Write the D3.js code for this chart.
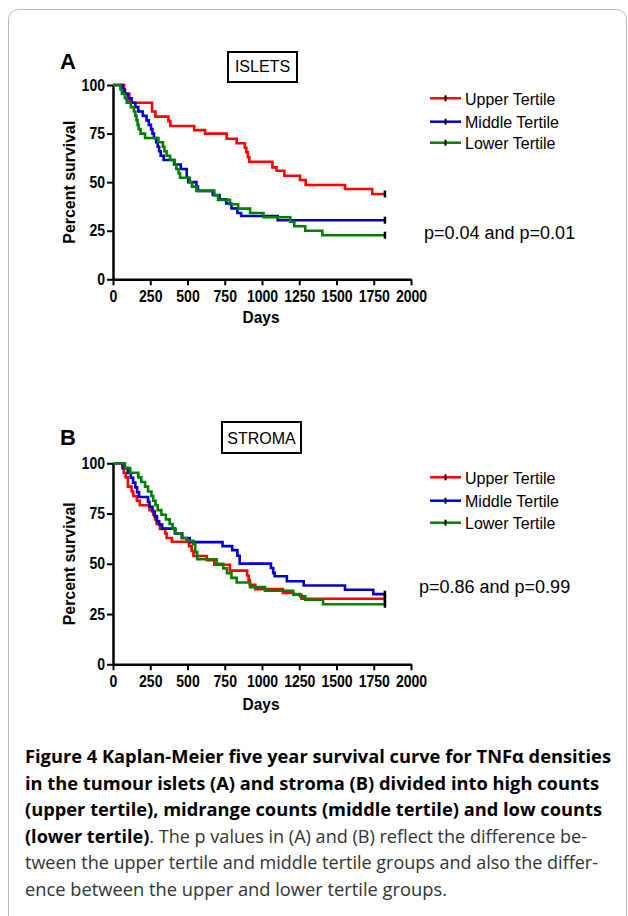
<!DOCTYPE html>
<html lang="en">
<head>
<meta charset="UTF-8">
<title>Figure 4 - Kaplan-Meier TNFa</title>
<style>
  html, body { margin: 0; background: #fff; }
  svg { display: block; }
</style>
</head>
<body>
<script src="https://cdn.jsdelivr.net/npm/d3@7"></script>
<script>
// ---- data (day, percent survival) : each point starts a new step ----
const seriesNames = ["Upper Tertile", "Middle Tertile", "Lower Tertile"];
const seriesColors = ["#ff0000", "#0000cc", "#008000"];
const xTicks = [0, 250, 500, 750, 1000, 1250, 1500, 1750, 2000];
const yTicks = [0, 25, 50, 75, 100];
const followUp = 1825;

const isletsUpper = [[0,100],[75,95.5],[110,90.9],[262,86.4],[285,83.7],[372,81.4],[385,78.9],[545,76.8],[618,75],[763,72.3],[830,70],[885,67.7],[895,65.4],[905,62.8],[915,60.5],[1070,57.6],[1098,55.9],[1150,53.3],[1255,51.1],[1293,48.5],[1557,46.5],[1740,43.9]];
const isletsMiddle = [[0,100],[65,97.7],[80,95.5],[100,93.2],[125,90.9],[150,88.6],[170,86.4],[200,84.1],[225,81.8],[240,79.5],[255,77.3],[265,75],[275,72.7],[290,70.5],[300,68.2],[310,65.9],[320,63.6],[340,61.4],[410,59.1],[455,56.8],[495,52.3],[505,50],[560,47.7],[570,45.5],[670,43.4],[715,41.2],[760,39],[795,36.5],[835,34.1],[860,32.6],[1105,30.4]];
const isletsLower = [[0,100],[50,97.7],[60,95.5],[80,93.2],[92,90.9],[120,88.6],[140,86.4],[150,84.1],[158,81.8],[165,79.5],[172,77.3],[185,75],[215,72.7],[305,70.5],[335,68.2],[345,65.9],[360,63.6],[383,61.4],[415,59.1],[425,56.8],[440,54.5],[450,52.3],[515,50],[530,47.7],[560,45.5],[680,43.2],[705,40.9],[785,38.6],[840,36.4],[920,34.1],[1010,31.9],[1190,29.6],[1217,27.3],[1290,25],[1405,22.7]];

const stromaUpper = [[0,100],[62,97.7],[72,95.3],[85,93],[100,88.4],[125,86],[136,83.7],[160,81.4],[180,79.1],[245,76.7],[270,74.4],[282,72.1],[293,69.8],[315,67.4],[350,65.1],[360,62.8],[395,61],[510,58.8],[528,56.4],[540,53.9],[630,51.8],[680,49.5],[785,46.6],[900,44.2],[910,41.9],[918,39.5],[955,37.4],[1140,35.5],[1210,34.6],[1265,32.6]];
const stromaMiddle = [[0,100],[70,97.6],[100,95.2],[120,92.8],[135,90.4],[150,88],[162,85.6],[175,83.2],[235,80.8],[245,78.4],[265,76],[280,73.6],[295,71.2],[310,69.5],[330,67.5],[415,65.1],[465,62.8],[515,60.8],[735,58.8],[800,56.8],[835,54],[850,50.1],[1060,47.9],[1075,45.5],[1085,43.8],[1167,41.3],[1280,39.2],[1557,37.1],[1747,34.9]];
const stromaLower = [[0,100],[80,97.6],[115,95.3],[170,93],[190,90.7],[215,88.4],[235,86],[258,83.7],[270,81.4],[285,79.1],[300,76.7],[325,74.4],[355,72.1],[380,69.8],[400,67.4],[420,65.1],[460,62.8],[495,61.5],[540,59.9],[552,55.8],[565,52.3],[695,50],[740,47.7],[765,45.3],[795,43],[830,40.7],[920,38.4],[1020,36.6],[1210,35],[1255,33.8],[1290,32.1],[1410,29.9]];

const panelLetters = ["A", "B"];
const panelTitles = ["ISLETS", "STROMA"];
const pValues = ["p=0.04 and p=0.01", "p=0.86 and p=0.99"];

const captionLines = [
  [["b", "Figure 4 Kaplan-Meier five year survival curve for TNF\u03b1 densities"]],
  [["b", "in the tumour islets (A) and stroma (B) divided into high counts"]],
  [["b", "(upper tertile), midrange counts (middle tertile) and low counts"]],
  [["b", "(lower tertile)"], ["r", ". The p values in (A) and (B) reflect the difference be-"]],
  [["r", "tween the upper tertile and middle tertile groups and also the differ-"]],
  [["r", "ence between the upper and lower tertile groups."]]
];

// ---- layout ----
const W = 628, H = 916;
const sans = "'Liberation Sans',Arial,Helvetica,sans-serif";

const svg = d3.select("body").append("svg")
  .attr("width", W)
  .attr("height", H);

// figure frame
svg.append("rect")
  .attr("x", 8.5).attr("y", 9.5)
  .attr("width", 618).attr("height", 960)
  .attr("rx", 10)
  .attr("fill", "none")
  .attr("stroke", "#b8b8b8");

const x = d3.scaleLinear().domain([0, 2000]).range([113, 411]);

const panels = [
  { series: [isletsUpper, isletsMiddle, isletsLower], top: 85, bottom: 279.3,
    letterY: 69.3, box: [228, 52, 69, 30], titleY: 72.3,
    legendY: [98.3, 121.7, 142.7], pY: 238.5, pX: 424, xLabelY: 323.3 },
  { series: [stromaUpper, stromaMiddle, stromaLower], top: 463.3, bottom: 664.3,
    letterY: 445, box: [222, 422, 79, 31], titleY: 444,
    legendY: [477.3, 500.7, 522.7], pY: 593, pX: 419, xLabelY: 710 }
];

panels.forEach((p, i) => {
  const y = d3.scaleLinear().domain([0, 100]).range([p.bottom, p.top]);
  const g = svg.append("g");

  // panel letter
  g.append("text")
    .attr("x", 60).attr("y", p.letterY)
    .attr("font-family", sans)
    .attr("font-weight", "bold")
    .attr("font-size", 22)
    .text(panelLetters[i]);

  // title box
  g.append("rect")
    .attr("x", p.box[0]).attr("y", p.box[1])
    .attr("width", p.box[2]).attr("height", p.box[3])
    .attr("fill", "#fff")
    .attr("stroke", "#000")
    .attr("stroke-width", 2);
  g.append("text")
    .attr("x", p.box[0] + p.box[2] / 2).attr("y", p.titleY)
    .attr("text-anchor", "middle")
    .attr("font-family", sans)
    .attr("font-size", 16)
    .text(panelTitles[i]);

  // axes
  const yAxis = g.append("g")
    .attr("transform", "translate(113,0)")
    .call(d3.axisLeft(y).tickValues(yTicks).tickFormat(d3.format("d"))
      .tickSize(6).tickSizeOuter(0).tickPadding(2));
  const xAxis = g.append("g")
    .attr("transform", `translate(0,${p.bottom})`)
    .call(d3.axisBottom(x).tickValues(xTicks).tickFormat(d3.format("d"))
      .tickSize(6).tickSizeOuter(0).tickPadding(5));
  [yAxis, xAxis].forEach(a => {
    a.select(".domain").attr("stroke", "#000").attr("stroke-width", 2.5);
    a.selectAll(".tick line").attr("stroke", "#000").attr("stroke-width", 2);
    a.selectAll(".tick text")
      .attr("fill", "#000")
      .attr("font-family", sans)
      .attr("font-weight", "bold")
      .attr("font-size", 16)
      // narrow look of the original labels
      .attr("textLength", function () { return this.textContent.length * 7.8; })
      .attr("lengthAdjust", "spacingAndGlyphs");
  });

  // axis titles
  g.append("text")
    .attr("transform", `translate(75,${(p.top + p.bottom) / 2}) rotate(-90)`)
    .attr("text-anchor", "middle")
    .attr("font-family", sans)
    .attr("font-weight", "bold")
    .attr("font-size", 17)
    .attr("textLength", 123)
    .attr("lengthAdjust", "spacingAndGlyphs")
    .text("Percent survival");
  g.append("text")
    .attr("x", x(1000) - 1).attr("y", p.xLabelY)
    .attr("text-anchor", "middle")
    .attr("font-family", sans)
    .attr("font-weight", "bold")
    .attr("font-size", 17)
    .attr("textLength", 37)
    .attr("lengthAdjust", "spacingAndGlyphs")
    .text("Days");

  // survival curves
  const line = d3.line()
    .x(d => x(d[0]))
    .y(d => y(d[1]))
    .curve(d3.curveStepAfter);

  p.series.forEach((s, k) => {
    const pts = s.concat([[followUp, s[s.length - 1][1]]]);
    g.append("path")
      .datum(pts)
      .attr("d", line)
      .attr("fill", "none")
      .attr("stroke", seriesColors[k])
      .attr("stroke-width", 2.6);
  });
  // censor ticks at end of follow-up
  p.series.forEach(s => {
    const last = s[s.length - 1][1];
    g.append("line")
      .attr("x1", x(followUp)).attr("x2", x(followUp))
      .attr("y1", y(last) - 3.5).attr("y2", y(last) + 3.5)
      .attr("stroke", "#000")
      .attr("stroke-width", 2.5);
  });

  // legend
  seriesNames.forEach((name, k) => {
    const ly = p.legendY[k];
    g.append("line")
      .attr("x1", 430).attr("x2", 461)
      .attr("y1", ly).attr("y2", ly)
      .attr("stroke", seriesColors[k])
      .attr("stroke-width", 2.5);
    g.append("line")
      .attr("x1", 445.5).attr("x2", 445.5)
      .attr("y1", ly - 3).attr("y2", ly + 3)
      .attr("stroke", "#000")
      .attr("stroke-width", 2);
    g.append("text")
      .attr("x", 465).attr("y", ly + 6.5)
      .attr("font-family", sans)
      .attr("font-size", 16)
      .text(name);
  });

  // p values
  g.append("text")
    .attr("x", p.pX).attr("y", p.pY)
    .attr("font-family", sans)
    .attr("font-size", 18)
    .text(pValues[i]);
});

// caption
const capWidths = [586, 574, 577, 562, 573, 422];
captionLines.forEach((segs, i) => {
  const t = svg.append("text")
    .attr("x", 25)
    .attr("y", 763 + i * 26.5)
    .attr("font-family", "'Open Sans','Noto Sans',sans-serif")
    .attr("font-size", 18)
    .attr("textLength", capWidths[i])
    .attr("lengthAdjust", "spacingAndGlyphs");
  segs.forEach(([w, txt]) => {
    t.append("tspan")
      .attr("font-weight", w === "b" ? "bold" : "normal")
      .attr("fill", w === "b" ? "#000" : "#333")
      .text(txt);
  });
});
</script>
</body>
</html>
